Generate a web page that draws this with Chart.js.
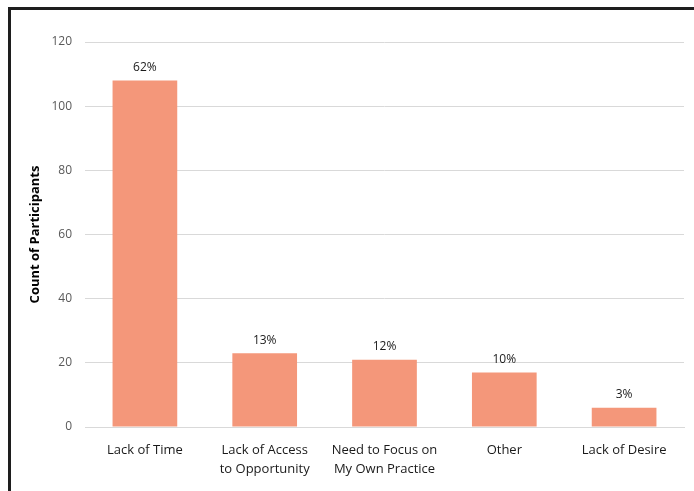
<!DOCTYPE html>
<html>
<head>
<meta charset="utf-8">
<script src="https://cdn.jsdelivr.net/npm/chart.js@4.4.0/dist/chart.umd.min.js"></script>
<style>
    html, body { margin: 0; padding: 0; background: #fff; }
    #wrap { position: relative; width: 694px; height: 491px; overflow: hidden; }
    #frame {
        position: absolute; left: 8px; top: 7px; width: 720px; height: 520px;
        border-left: 3px solid #1e1e1e; border-top: 3px solid #1e1e1e;
        pointer-events: none;
    }
</style>
</head>
<body>
<div id="wrap">
    <canvas id="barChart" width="694" height="491"></canvas>
    <div id="frame"></div>
</div>
<script>
const categories = [
    'Lack of Time',
    ['Lack of Access', 'to Opportunity'],
    ['Need to Focus on', 'My Own Practice'],
    'Other',
    'Lack of Desire',
];
const counts = [108, 23, 21, 17, 6];
const percentLabels = ['62%', '13%', '12%', '10%', '3%'];
const yTicks = [0, 20, 40, 60, 80, 100, 120];

const fontFamily = '"Open Sans", "Liberation Sans", sans-serif';

const barLabels = {
    id: 'barLabels',
    afterDatasetsDraw(chart) {
        const ctx = chart.ctx;
        const meta = chart.getDatasetMeta(0);
        ctx.save();
        ctx.font = '12px ' + fontFamily;
        ctx.fillStyle = '#1a1a1a';
        ctx.textAlign = 'center';
        ctx.textBaseline = 'bottom';
        meta.data.forEach((bar, i) => {
            ctx.fillText(percentLabels[i], bar.x, bar.y - 7);
        });
        ctx.restore();
    },
};

document.addEventListener('DOMContentLoaded', () => {
    const ctx = document.getElementById('barChart');
    new Chart(ctx, {
        type: 'bar',
        data: {
            labels: categories,
            datasets: [{
                label: 'Count of Participants',
                data: counts,
                backgroundColor: '#f4977a',
                barPercentage: 0.54,
                categoryPercentage: 1.0,
            }],
        },
        options: {
            responsive: false,
            animation: false,
            layout: { padding: { top: 42, right: 10, bottom: 10, left: 27 } },
            plugins: {
                legend: { display: false },
                tooltip: { enabled: false },
            },
            scales: {
                x: {
                    grid: { display: false },
                    border: { color: '#d9d9d9' },
                    ticks: {
                        color: '#1a1a1a',
                        font: { family: fontFamily, size: 13, lineHeight: 1.45 },
                        maxRotation: 0,
                        padding: 6,
                    },
                    afterFit(scale) { scale.height = 54; },
                },
                y: {
                    min: 0,
                    max: 120,
                    afterBuildTicks(scale) {
                        scale.ticks = yTicks.map(v => ({ value: v }));
                    },
                    grid: { color: '#d9d9d9', drawTicks: false },
                    border: { display: false },
                    ticks: {
                        color: '#595959',
                        font: { family: fontFamily, size: 12 },
                        padding: 13,
                    },
                    title: {
                        display: true,
                        text: 'Count of Participants',
                        color: '#000',
                        font: { family: fontFamily, size: 13, weight: 'bold' },
                        padding: { top: 0, bottom: 4 },
                    },
                    afterFit(scale) { scale.width = 58; },
                },
            },
        },
        plugins: [barLabels],
    });
});
</script>
</body>
</html>
